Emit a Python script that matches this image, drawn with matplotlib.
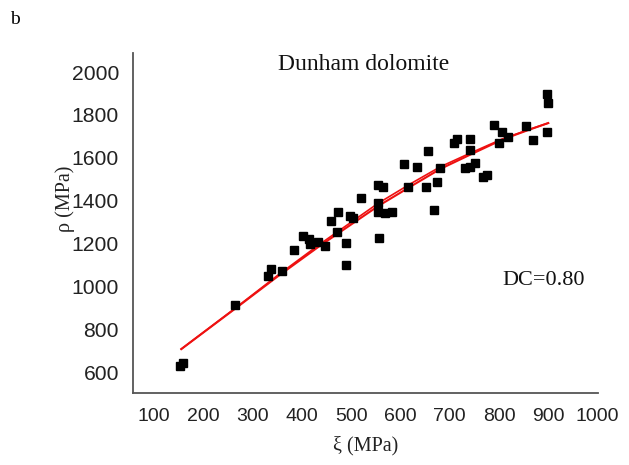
import matplotlib.pyplot as plt

# measured points (xi, rho), both in MPa
xi = [153, 159, 264, 331, 338, 360, 384, 403, 415, 417, 433, 447, 459, 474,
      472, 490, 490, 498, 504, 520, 555, 565, 555, 555, 569, 583, 557, 608,
      634, 616, 656, 675, 652, 669, 681, 709, 715, 742, 742, 731, 742, 752,
      768, 776, 790, 807, 800, 819, 855, 870, 898, 900, 898]
rho = [628, 642, 913, 1048, 1081, 1071, 1169, 1235, 1221, 1197, 1207, 1188,
       1305, 1347, 1253, 1202, 1099, 1328, 1319, 1412, 1473, 1463, 1389, 1347,
       1342, 1347, 1225, 1571, 1557, 1463, 1631, 1487, 1463, 1356, 1552, 1669,
       1687, 1687, 1636, 1552, 1557, 1575, 1510, 1519, 1753, 1720, 1669, 1697,
       1748, 1683, 1897, 1855, 1720]

# two fitted curves (they nearly overlap)
fit_x = [155, 264, 350, 437, 555, 620, 681, 742, 807, 860, 900]
fit_a = [707, 895, 1045, 1190, 1375, 1465, 1548, 1615, 1685, 1730, 1762]
fit_b = [707, 897, 1050, 1198, 1388, 1478, 1558, 1622, 1688, 1731, 1762]

x_ticks = [100, 200, 300, 400, 500, 600, 700, 800, 900, 1000]
y_ticks = [600, 800, 1000, 1200, 1400, 1600, 1800, 2000]

SANS = "Liberation Sans"
SERIF = "Liberation Serif"

fig = plt.figure(figsize=(6.29, 4.65), dpi=100)
ax = fig.add_axes([133 / 629, 72 / 465, 465 / 629, 340 / 465])

ax.plot(fit_x, fit_a, color="#ee1111", lw=1.5, zorder=2)
ax.plot(fit_x, fit_b, color="#ee1111", lw=1.2, zorder=2)
ax.plot(xi, rho, "s", color="black", ms=5.8, zorder=3)

ax.set_xlim(57, 1001)
ax.set_ylim(502, 2089)
ax.set_xticks(x_ticks)
ax.set_yticks(y_ticks)
ax.tick_params(length=0)
ax.tick_params(axis="x", pad=11)
ax.tick_params(axis="y", pad=10)
for lab in ax.get_xticklabels():
    lab.set_fontfamily(SANS)
    lab.set_fontsize(14)
    lab.set_color("#222222")
for lab in ax.get_yticklabels():
    lab.set_fontfamily(SANS)
    lab.set_fontsize(15.2)
    lab.set_color("#222222")

for side in ("top", "right"):
    ax.spines[side].set_visible(False)
for side in ("left", "bottom"):
    ax.spines[side].set_color("#555555")
    ax.spines[side].set_linewidth(1.3)

ax.set_xlabel("ξ (MPa)", family=SERIF, fontsize=14.5, color="#222222")
ax.xaxis.set_label_coords(0.5, -0.125)
ax.set_ylabel("ρ (MPa)", family=SERIF, fontsize=14.5, color="#222222")
ax.yaxis.set_label_coords(-0.125, 0.57)

ax.text(0.495, 0.965, "Dunham dolomite", transform=ax.transAxes,
        ha="center", va="center", family=SERIF, fontsize=17, color="#111111")
ax.text(0.884, 0.332, "DC=0.80", transform=ax.transAxes,
        ha="center", va="center", family=SERIF, fontsize=16, color="#111111")

fig.text(15 / 629, 1 - 20 / 465, "b", family=SERIF, fontsize=14,
         ha="center", va="center")

fig.savefig("out.png", dpi=100)
